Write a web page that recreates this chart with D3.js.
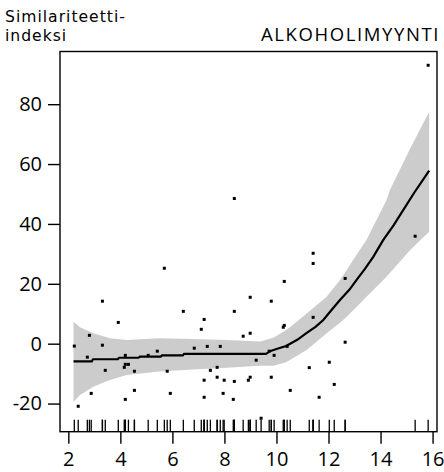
<!DOCTYPE html>
<html>
<head>
<meta charset="utf-8">
<script src="https://cdn.jsdelivr.net/npm/d3@7"></script>
<style>
  body { margin: 0; background: #fff; }
  svg text { font-family: "Open Sans", "Noto Sans", sans-serif; fill: #000; }
</style>
</head>
<body>
<div class="chart"></div>
<script>
// scatter points (x = sales, y = similarity index)
var pointX = [5.69, 3.31, 6.42, 7.22, 8.38, 8.99, 3.92, 7.11, 2.81, 8.72, 8.99, 2.23, 3.31, 6.84, 7.34,
  7.84, 5.42, 4.19, 5.07, 2.73, 9.22, 4.19, 4.31, 4.15, 3.42, 4.54, 5.80, 7.46, 7.72, 7.72,
  7.22, 7.99, 8.38, 8.92, 8.99, 4.54, 2.88, 5.92, 7.95, 7.22, 4.19, 8.34, 2.38, 8.38, 15.83,
  15.33, 11.41, 11.41, 10.30, 12.64, 9.80, 11.41, 10.30, 10.26, 10.41, 9.72, 9.91, 12.64, 12.03, 11.26,
  9.80, 12.22, 10.53, 11.64, 9.41];
var pointY = [25.2, 14.2, 10.8, 8.1, 10.8, 15.5, 7.1, 4.8, 2.8, 2.5, 3.5, -0.8, -0.5, -1.5, -0.9,
  -0.9, -2.5, -3.9, -3.9, -4.5, -5.5, -6.9, -6.9, -7.9, -8.9, -9.2, -9.2, -8.9, -7.9, -11.2,
  -12.2, -12.2, -12.6, -12.2, -11.2, -15.6, -16.6, -16.6, -16.6, -17.9, -18.6, -18.6, -20.9, 48.5, 93.0,
  35.9, 30.2, 26.8, 20.8, 21.8, 14.2, 8.8, 6.1, 5.5, -0.9, -2.5, -3.9, 0.5, -6.2, -8.0,
  -11.2, -13.6, -15.6, -17.9, -24.9];

// smoothed fit
var fitX = [2.2, 2.9, 2.95, 3.9, 3.95, 4.7, 4.75, 5.55, 5.6, 6.4, 6.45, 9.6, 9.75, 10.0, 10.37, 10.8,
  11.15, 11.5, 11.8, 12.1, 12.44, 12.8, 13.08, 13.4, 13.72, 14.1, 14.5, 14.87, 15.3, 15.87];
var fitY = [-5.9, -5.9, -5.2, -5.2, -4.7, -4.7, -4.3, -4.3, -3.9, -3.9, -3.4, -3.4, -2.5, -1.8, -0.8, 1.3,
  3.5, 5.6, 7.9, 11.1, 14.6, 18.0, 21.3, 25.0, 29.0, 34.6, 39.5, 44.6, 50.5, 57.8];

// confidence band
var bandX = [2.2, 2.45, 2.96, 3.6, 4.24, 5.5, 6.8, 8.09, 9.37, 9.88, 10.37, 10.53, 11.16, 11.93, 12.44,
  12.7, 12.95, 13.46, 14.23, 14.36, 15.13, 15.87];
var bandHi = [7.3, 5.5, 3.5, 1.8, 1.2, 1.8, 1.6, 1.2, 0.7, 2.0, 4.6, 5.6, 10.1, 15.7, 21.3,
  24.6, 28.0, 34.6, 48.0, 51.3, 65.0, 77.5];
var bandLo = [-19.4, -17.1, -14.4, -12.1, -10.5, -9.3, -8.6, -8.0, -7.4, -7.4, -6.2, -5.4, -2.1, 3.5, 7.0,
  9.0, 11.2, 15.7, 22.4, 23.6, 31.2, 37.4];

var xTicks = [2, 4, 6, 8, 10, 12, 14, 16];
var yTicks = [-20, 0, 20, 40, 60, 80];

var width = 444, height = 472;
var box = {left: 60, right: 437, top: 51.5, bottom: 431.7};

var svg = d3.select(".chart").append("svg")
  .attr("width", width)
  .attr("height", height);

var x = d3.scaleLinear().domain([1.68, 16.17]).range([box.left, box.right]);
var y = d3.scaleLinear().domain([-29.4, 97.6]).range([box.bottom, box.top]);

// band
var band = bandX.map(function(d, i) { return {x: d, lo: bandLo[i], hi: bandHi[i]}; });
svg.append("path")
  .attr("fill", "#cccccc")
  .attr("d", d3.area()
    .x(function(d) { return x(d.x); })
    .y0(function(d) { return y(d.lo); })
    .y1(function(d) { return y(d.hi); })(band));

// points
svg.selectAll("rect.pt")
  .data(pointX)
  .enter().append("rect")
  .attr("class", "pt")
  .attr("x", function(d) { return x(d) - 1.5; })
  .attr("y", function(d, i) { return y(pointY[i]) - 1.5; })
  .attr("width", 3)
  .attr("height", 3)
  .attr("fill", "#000");

// fit line
var fit = fitX.map(function(d, i) { return [d, fitY[i]]; });
svg.append("path")
  .attr("fill", "none")
  .attr("stroke", "#000")
  .attr("stroke-width", 2.2)
  .attr("d", d3.line()
    .x(function(d) { return x(d[0]); })
    .y(function(d) { return y(d[1]); })(fit));

// rug
svg.selectAll("line.rug")
  .data(pointX)
  .enter().append("line")
  .attr("class", "rug")
  .attr("x1", function(d) { return x(d); })
  .attr("x2", function(d) { return x(d); })
  .attr("y1", box.bottom)
  .attr("y2", box.bottom - 12)
  .attr("stroke", "#000")
  .attr("stroke-width", 1.3);

// frame
svg.append("rect")
  .attr("x", box.left)
  .attr("y", box.top)
  .attr("width", box.right - box.left)
  .attr("height", box.bottom - box.top)
  .attr("fill", "none")
  .attr("stroke", "#000")
  .attr("stroke-width", 1.4);

// axes
var xAxis = svg.append("g")
  .attr("transform", "translate(0," + box.bottom + ")")
  .call(d3.axisBottom(x).tickValues(xTicks).tickSize(12).tickPadding(8).tickFormat(d3.format("d")));
var yAxis = svg.append("g")
  .attr("transform", "translate(" + box.left + ",0)")
  .call(d3.axisLeft(y).tickValues(yTicks).tickSize(12).tickPadding(6).tickFormat(function(d) { return String(d); }));
[xAxis, yAxis].forEach(function(g) {
  g.select(".domain").remove();
  g.selectAll(".tick line").attr("stroke", "#000").attr("stroke-width", 1.4);
  g.selectAll(".tick text").attr("font-size", 20).attr("font-family", null);
});

// labels
var ylab = svg.append("text")
  .style("font-family", "'DejaVu Sans', sans-serif")
  .attr("font-size", 15.6).attr("letter-spacing", 1.0);
ylab.append("tspan").attr("x", 5).attr("y", 21.8).text("Similariteetti-");
ylab.append("tspan").attr("x", 5).attr("y", 40.6).text("indeksi");
svg.append("text").attr("x", 440).attr("y", 41).attr("font-size", 18.5)
  .attr("letter-spacing", 1.6)
  .attr("text-anchor", "end").text("ALKOHOLIMYYNTI");
</script>
</body>
</html>
